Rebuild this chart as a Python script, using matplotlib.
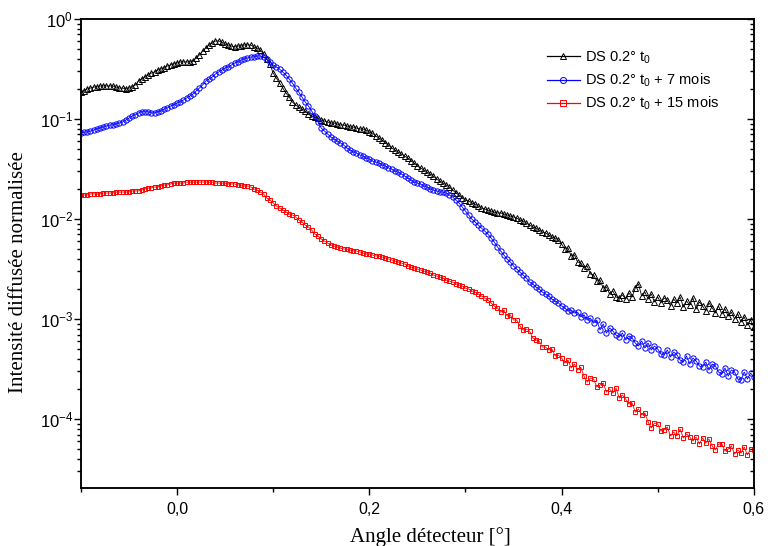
import numpy as np
import matplotlib
matplotlib.use("Agg")
import matplotlib.pyplot as plt
from matplotlib.ticker import LogLocator, MultipleLocator, FuncFormatter, NullFormatter

# detector angle scan, -0.1 .. 0.6 deg (evenly stepped)
angle_min, angle_max = -0.1, 0.6

# DS 0.2 deg t0 (black triangles)
i_t0 = [0.186, 0.191, 0.200, 0.204, 0.209, 0.209, 0.214, 0.214, 0.214, 0.214,
        0.214, 0.209, 0.204, 0.204, 0.200, 0.204, 0.209, 0.219, 0.240, 0.251,
        0.263, 0.275, 0.288, 0.295, 0.309, 0.316, 0.324, 0.339, 0.347, 0.355,
        0.363, 0.372, 0.372, 0.372, 0.372, 0.380, 0.407, 0.437, 0.479, 0.513,
        0.550, 0.575, 0.603, 0.603, 0.589, 0.562, 0.550, 0.537, 0.525, 0.537,
        0.537, 0.550, 0.550, 0.550, 0.525, 0.513, 0.490, 0.447, 0.398, 0.355,
        0.288, 0.257, 0.229, 0.204, 0.182, 0.166, 0.148, 0.138, 0.132, 0.126,
        0.120, 0.112, 0.107, 0.105, 0.102, 0.0977, 0.0955, 0.0933, 0.0912, 0.0912,
        0.0891, 0.0871, 0.0871, 0.0851, 0.0832, 0.0832, 0.0813, 0.0794, 0.0794, 0.0776,
        0.0741, 0.0724, 0.0676, 0.0646, 0.0617, 0.0575, 0.0550, 0.0513, 0.0490, 0.0468,
        0.0447, 0.0427, 0.0407, 0.0380, 0.0363, 0.0339, 0.0324, 0.0309, 0.0295, 0.0282,
        0.0269, 0.0251, 0.0240, 0.0229, 0.0219, 0.0209, 0.0195, 0.0182, 0.0174, 0.0162,
        0.0155, 0.0151, 0.0145, 0.0141, 0.0135, 0.0129, 0.0126, 0.0123, 0.0120, 0.0117,
        0.0115, 0.0115, 0.0112, 0.0110, 0.0107, 0.0105, 0.0102, 0.00977, 0.00955, 0.00912,
        0.00871, 0.00832, 0.00813, 0.00776, 0.00741, 0.00724, 0.00692, 0.00661, 0.00646, 0.00617,
        0.00562, 0.00501, 0.00513, 0.00427, 0.00437, 0.00372, 0.00363, 0.00324, 0.00339, 0.00282,
        0.00275, 0.00240, 0.00245, 0.00204, 0.00209, 0.00178, 0.00191, 0.00166, 0.00162, 0.00174,
        0.00158, 0.00182, 0.00166, 0.00204, 0.00224, 0.00170, 0.00186, 0.00158, 0.00178, 0.00148,
        0.00166, 0.00145, 0.00162, 0.00155, 0.00135, 0.00158, 0.00145, 0.00166, 0.00132, 0.00151,
        0.00138, 0.00162, 0.00126, 0.00148, 0.00135, 0.00120, 0.00145, 0.00129, 0.00115, 0.00135,
        0.00112, 0.00126, 0.00107, 0.00117, 0.00100, 0.00112, 0.000933, 0.00105, 0.000871, 0.000977,
        0.000832]

# DS 0.2 deg t0 + 7 mois (blue circles)
i_7m = [0.0724, 0.0741, 0.0741, 0.0759, 0.0776, 0.0794, 0.0813, 0.0832, 0.0851, 0.0871,
        0.0871, 0.0891, 0.0912, 0.0933, 0.0977, 0.102, 0.107, 0.110, 0.115, 0.118,
        0.118, 0.118, 0.115, 0.115, 0.118, 0.120, 0.126, 0.129, 0.135, 0.138,
        0.145, 0.148, 0.155, 0.162, 0.170, 0.178, 0.191, 0.204, 0.219, 0.240,
        0.251, 0.263, 0.282, 0.295, 0.309, 0.324, 0.331, 0.347, 0.363, 0.372,
        0.389, 0.398, 0.407, 0.417, 0.417, 0.427, 0.427, 0.417, 0.398, 0.372,
        0.347, 0.331, 0.316, 0.295, 0.275, 0.251, 0.229, 0.204, 0.186, 0.166,
        0.148, 0.135, 0.120, 0.107, 0.0933, 0.0813, 0.0759, 0.0708, 0.0661, 0.0631,
        0.0603, 0.0575, 0.0550, 0.0513, 0.0490, 0.0468, 0.0457, 0.0437, 0.0427, 0.0407,
        0.0398, 0.0380, 0.0372, 0.0363, 0.0347, 0.0339, 0.0324, 0.0316, 0.0302, 0.0295,
        0.0282, 0.0269, 0.0257, 0.0245, 0.0234, 0.0229, 0.0224, 0.0214, 0.0209, 0.0200,
        0.0195, 0.0191, 0.0186, 0.0186, 0.0182, 0.0174, 0.0166, 0.0155, 0.0145, 0.0132,
        0.0120, 0.0110, 0.0100, 0.00933, 0.00871, 0.00813, 0.00759, 0.00708, 0.00646, 0.00589,
        0.00525, 0.00479, 0.00437, 0.00398, 0.00372, 0.00339, 0.00316, 0.00295, 0.00275, 0.00257,
        0.00234, 0.00224, 0.00209, 0.00200, 0.00186, 0.00178, 0.00170, 0.00158, 0.00151, 0.00145,
        0.00135, 0.00129, 0.00120, 0.00123, 0.00115, 0.00117, 0.00105, 0.00110, 0.000977, 0.00102,
        0.000912, 0.000977, 0.000776, 0.000891, 0.000724, 0.000813, 0.000759, 0.000692, 0.000661, 0.000724,
        0.000617, 0.000676, 0.000646, 0.000575, 0.000537, 0.000603, 0.000513, 0.000575, 0.000490, 0.000537,
        0.000501, 0.000447, 0.000437, 0.000490, 0.000417, 0.000468, 0.000437, 0.000389, 0.000372, 0.000427,
        0.000355, 0.000407, 0.000380, 0.000339, 0.000331, 0.000372, 0.000309, 0.000355, 0.000339, 0.000295,
        0.000282, 0.000324, 0.000269, 0.000309, 0.000295, 0.000251, 0.000245, 0.000295, 0.000251, 0.000288,
        0.000263]

# DS 0.2 deg t0 + 15 mois (red squares)
i_15m = [0.0174, 0.0174, 0.0174, 0.0178, 0.0178, 0.0178, 0.0178, 0.0182, 0.0182, 0.0182,
         0.0182, 0.0186, 0.0186, 0.0186, 0.0186, 0.0186, 0.0191, 0.0191, 0.0191, 0.0195,
         0.0200, 0.0204, 0.0204, 0.0209, 0.0209, 0.0214, 0.0219, 0.0219, 0.0224, 0.0229,
         0.0229, 0.0229, 0.0229, 0.0234, 0.0234, 0.0234, 0.0234, 0.0234, 0.0234, 0.0234,
         0.0234, 0.0234, 0.0229, 0.0229, 0.0229, 0.0229, 0.0224, 0.0224, 0.0224, 0.0219,
         0.0219, 0.0214, 0.0214, 0.0209, 0.0200, 0.0195, 0.0186, 0.0178, 0.0162, 0.0155,
         0.0145, 0.0135, 0.0129, 0.0123, 0.0117, 0.0112, 0.0110, 0.0105, 0.00977, 0.00933,
         0.00871, 0.00832, 0.00776, 0.00708, 0.00676, 0.00631, 0.00603, 0.00575, 0.00550, 0.00537,
         0.00525, 0.00513, 0.00501, 0.00501, 0.00490, 0.00479, 0.00479, 0.00468, 0.00457, 0.00447,
         0.00447, 0.00437, 0.00427, 0.00427, 0.00417, 0.00407, 0.00398, 0.00389, 0.00380, 0.00372,
         0.00363, 0.00355, 0.00339, 0.00331, 0.00324, 0.00316, 0.00309, 0.00302, 0.00295, 0.00288,
         0.00275, 0.00269, 0.00263, 0.00257, 0.00245, 0.00240, 0.00234, 0.00224, 0.00219, 0.00214,
         0.00204, 0.00200, 0.00191, 0.00186, 0.00178, 0.00170, 0.00162, 0.00155, 0.00145, 0.00135,
         0.00129, 0.00117, 0.00123, 0.00107, 0.00110, 0.000977, 0.000977, 0.000851, 0.000776, 0.000794,
         0.000759, 0.000646, 0.000617, 0.000603, 0.000525, 0.000525, 0.000490, 0.000501, 0.000427, 0.000437,
         0.000407, 0.000363, 0.000389, 0.000324, 0.000355, 0.000309, 0.000331, 0.000269, 0.000234, 0.000257,
         0.000251, 0.000209, 0.000219, 0.000229, 0.000186, 0.000200, 0.000182, 0.000204, 0.000162, 0.000174,
         0.000158, 0.000141, 0.000145, 0.000117, 0.000126, 0.000110, 0.000115, 0.0000933, 0.0000813, 0.0000912,
         0.0000891, 0.0000759, 0.0000776, 0.0000832, 0.0000676, 0.0000741, 0.0000676, 0.0000794, 0.0000646, 0.0000708,
         0.0000661, 0.0000603, 0.0000661, 0.0000562, 0.0000646, 0.0000575, 0.0000631, 0.0000537, 0.0000490, 0.0000562,
         0.0000562, 0.0000479, 0.0000501, 0.0000537, 0.0000447, 0.0000490, 0.0000457, 0.0000525, 0.0000437, 0.0000501,
         0.0000490]

labels = [r"DS 0.2° t$_0$", r"DS 0.2° t$_0$ + 7 mois", r"DS 0.2° t$_0$ + 15 mois"]
colors = ['#000000', '#0000ff', '#ff0000']

plt.rcParams['font.family'] = ['Liberation Sans', 'DejaVu Sans']
plt.rcParams['mathtext.default'] = 'regular'

fig = plt.figure(figsize=(7.7, 5.46), dpi=100)
ax = fig.add_axes([0.105, 0.1062, 0.874, 0.859])

angle = np.linspace(angle_min, angle_max, len(i_t0))

series = [(i_t0, '^', 4.0), (i_7m, 'o', 3.8), (i_15m, 's', 3.4)]
handles = []
for (vals, m, size), c, lab in zip(series, colors, labels):
    h, = ax.plot(angle, vals, color=c, lw=0.6, marker=m, ms=size,
                 mfc='none', mec=c, mew=0.7, label=lab)
    handles.append(h)

ax.set_yscale('log')
ax.set_xlim(-0.1, 0.6)
ax.set_ylim(10 ** -4.69, 1.0)

ax.xaxis.set_major_locator(MultipleLocator(0.2))
ax.xaxis.set_minor_locator(MultipleLocator(0.1))
ax.xaxis.set_major_formatter(FuncFormatter(lambda v, p: ("%.1f" % v).replace('.', ',').replace('-0,0', '0,0')))
ax.yaxis.set_major_locator(LogLocator(base=10, numticks=10))
ax.yaxis.set_minor_locator(LogLocator(base=10, subs=np.arange(2, 10), numticks=20))
ax.yaxis.set_minor_formatter(NullFormatter())

ax.tick_params(which='both', direction='out', width=1.0, top=False, right=False)
ax.tick_params(which='major', length=4.8)
ax.tick_params(which='minor', length=2.8)
ax.tick_params(axis='x', which='major', pad=5, labelsize=11.5)
ax.tick_params(axis='y', which='major', pad=0.8, labelsize=12)
for s in ax.spines.values():
    s.set_linewidth(1.1)

# right axis: same log scale, ticks pointing inwards, no labels
ax2 = ax.twinx()
ax2.set_yscale('log')
ax2.set_ylim(ax.get_ylim())
ax2.yaxis.set_major_locator(LogLocator(base=10, numticks=10))
ax2.yaxis.set_minor_locator(LogLocator(base=10, subs=np.arange(2, 10), numticks=20))
ax2.tick_params(which='both', direction='in', labelright=False, width=1.0)
ax2.tick_params(which='major', length=4.8)
ax2.tick_params(which='minor', length=2.8)
for s in ax2.spines.values():
    s.set_linewidth(1.1)

ax.set_xlabel("Angle détecteur [°]", family='Liberation Serif', fontsize=15)
ax.set_ylabel("Intensité diffusée normalisée", family='Liberation Serif', fontsize=15)
ax.xaxis.set_label_coords(0.519, -0.083)
ax.yaxis.set_label_coords(-0.078, 0.46)

# legend drawn on the top axes so nothing covers it
leg = ax2.legend(handles, labels, loc='upper left', bbox_to_anchor=(0.692, 0.935), frameon=False,
                 fontsize=10.5, handlelength=2.3, labelspacing=0.4, handletextpad=0.35,
                 borderpad=0, borderaxespad=0, markerscale=1.15)
for line in leg.get_lines():
    line.set_linewidth(0.9)

fig.savefig('out.png', dpi=100)
